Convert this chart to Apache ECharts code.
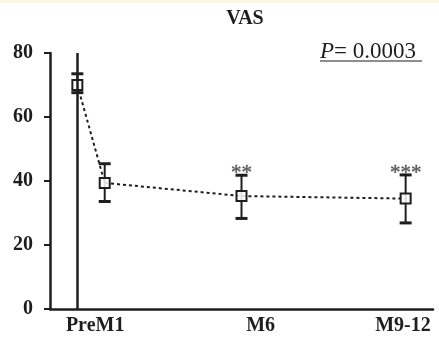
<!DOCTYPE html>
<html><head><meta charset="utf-8">
<script src="https://cdn.jsdelivr.net/npm/echarts@6/dist/echarts.min.js"></script>
<style>html,body{margin:0;padding:0;background:#fff}#c{width:439px;height:341px}</style>
</head><body><div id="c"></div>
<script>
// Data (x = month of visit)
const visitMonths = [0, 1, 6, 12];
const vasMean = [70.0, 39.4, 35.3, 34.5];
const vasLow = [67.6, 33.6, 28.3, 26.9];
const vasHigh = [73.5, 45.4, 41.8, 41.9];
const significance = ['', '', '**', '***'];
const xTickLabels = ['PreM1', 'M6', 'M9-12'];
const xTickAt = [0.65, 6.7, 11.9];
const yTicks = [0, 20, 40, 60, 80];
const pText = '0.0003';

const serif = "'Liberation Serif','Times New Roman',serif";
const ink = '#1e1e1e';
const chart = echarts.init(document.getElementById('c'));

const meanData = visitMonths.map((m, i) => [m, vasMean[i]]);
const errData = visitMonths.map((m, i) => [m, vasLow[i], vasHigh[i]]);
const sigData = visitMonths.map((m, i) => [m, vasHigh[i], significance[i]]).filter(d => d[2]);

chart.setOption({
  animation: false,
  backgroundColor: '#fff',
  title: {
    text: 'VAS', left: 240, top: 4, textAlign: 'center',
    textStyle: {fontFamily: serif, fontWeight: 'bold', fontSize: 20, color: ink}
  },
  graphic: [
    {type: 'rect', left: 0, top: 0, shape: {width: 439, height: 3}, style: {fill: '#fbf6e4'}},
    {type: 'text', left: 320, top: 40, style: {
      text: '{i|P}= ' + pText,
      rich: {i: {fontStyle: 'italic', fontFamily: serif, fontSize: 23, fill: ink}},
      font: '23px ' + serif, fill: ink}},
    {type: 'line', shape: {x1: 320, y1: 61, x2: 422, y2: 61}, style: {stroke: ink, lineWidth: 1.2}}
  ],
  grid: {left: 50, right: 6, top: 53, bottom: 32},
  xAxis: {
    type: 'value', min: -1, max: 13,
    axisLine: {show: true, onZero: false, lineStyle: {color: ink, width: 2.5}},
    axisTick: {show: false},
    splitLine: {show: false},
    axisLabel: {
      customValues: xTickAt,
      formatter: v => { const k = xTickAt.indexOf(v); return k >= 0 ? xTickLabels[k] : ''; },
      fontFamily: serif, fontWeight: 'bold', fontSize: 20, color: ink, margin: 7
    }
  },
  yAxis: {
    type: 'value', min: yTicks[0], max: yTicks[yTicks.length - 1], interval: 20,
    axisLine: {show: true, onZero: false, lineStyle: {color: ink, width: 2.5}},
    axisTick: {show: true, inside: false, length: 6, lineStyle: {color: ink, width: 2}},
    splitLine: {show: false},
    axisLabel: {fontFamily: serif, fontWeight: 'bold', fontSize: 20, color: ink, margin: 17}
  },
  series: [
    {
      type: 'line', data: [], silent: true,
      markLine: {
        symbol: 'none', silent: true, label: {show: false},
        lineStyle: {color: ink, width: 2.5, type: 'solid'},
        data: [{xAxis: visitMonths[0]}]
      }
    },
    {
      type: 'custom', data: errData, z: 3,
      renderItem: (params, api) => {
        const x = api.value(0);
        const lo = api.coord([x, api.value(1)]);
        const hi = api.coord([x, api.value(2)]);
        const w = 6;
        const st = {stroke: ink, lineWidth: 2};
        return {type: 'group', children: [
          {type: 'line', shape: {x1: lo[0], y1: lo[1], x2: hi[0], y2: hi[1]}, style: st},
          {type: 'line', shape: {x1: lo[0] - w, y1: lo[1], x2: lo[0] + w, y2: lo[1]}, style: {stroke: ink, lineWidth: 3}},
          {type: 'line', shape: {x1: hi[0] - w, y1: hi[1], x2: hi[0] + w, y2: hi[1]}, style: {stroke: ink, lineWidth: 3}}
        ]};
      }
    },
    {
      type: 'line', data: meanData, z: 4,
      symbol: 'rect', symbolSize: 10, showAllSymbol: true,
      lineStyle: {color: ink, width: 2, type: [3, 3]},
      itemStyle: {color: 'rgba(255,255,255,0.85)', borderColor: ink, borderWidth: 2}
    },
    {
      type: 'scatter', data: sigData, symbolSize: 0, z: 5,
      label: {show: true, position: 'top', distance: -9, formatter: p => p.data[2],
        fontFamily: serif, fontSize: 21, color: '#333', textBorderColor: '#555', textBorderWidth: 0.4}
    }
  ]
});
</script></body></html>
